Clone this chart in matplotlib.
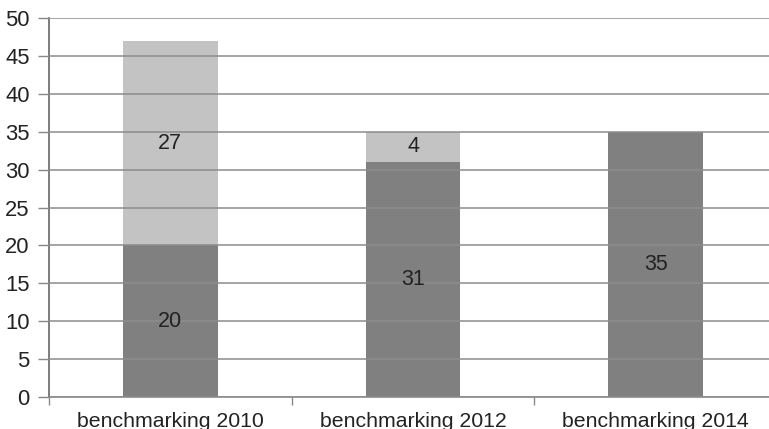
import matplotlib.pyplot as plt
import numpy as np

categories = ["benchmarking 2010", "benchmarking 2012", "benchmarking 2014"]
base = [20, 31, 35]
extra = [27, 4, 0]

W, H = 769, 429
fig = plt.figure(figsize=(W / 100, H / 100), dpi=100)
plt.rcParams['font.family'] = ['Liberation Sans', 'DejaVu Sans']

# the original is cropped on the right, so the axes runs past the edge
ax = fig.add_axes([49 / W, 32 / H, (777 - 49) / W, (397 - 18) / H])

x = np.arange(len(categories))
ax.bar(x, base, width=0.39, color="#808080", zorder=1)
ax.bar(x, extra, width=0.39, bottom=base, color="#c3c3c3", zorder=1)

for i in range(len(categories)):
    ax.text(x[i], base[i] / 2, str(base[i]), ha="center", va="center",
            fontsize=15.5, color="#222222", zorder=4)
    if extra[i] > 0:
        ax.text(x[i], base[i] + extra[i] / 2, str(extra[i]), ha="center", va="center",
                fontsize=15.5, color="#222222", zorder=4)

ax.set_xlim(-0.5, 2.5)
ax.set_ylim(0, 50)
ax.set_yticks(range(0, 51, 5))
ax.yaxis.grid(True, color="#8c8c8c", linewidth=1.1, zorder=2)
ax.set_axisbelow(False)

ax.set_xticks(x)
ax.set_xticklabels(categories)
ax.set_xticks([-0.5, 0.5, 1.5, 2.5], minor=True)
ax.tick_params(axis="x", which="major", length=0, pad=11, labelsize=15.3, labelcolor="#222222")
ax.tick_params(axis="x", which="minor", length=6, width=1, color="#888888", direction="out")
ax.tick_params(axis="y", length=8, width=1, color="#888888", pad=6, labelsize=15.8, labelcolor="#222222")

for s in ["top", "right"]:
    ax.spines[s].set_visible(False)
ax.spines["left"].set_color("#666666")
ax.spines["bottom"].set_color("#888888")
ax.spines["left"].set_linewidth(1.2)
ax.spines["bottom"].set_linewidth(1.2)

fig.savefig("out.png", dpi=100)
